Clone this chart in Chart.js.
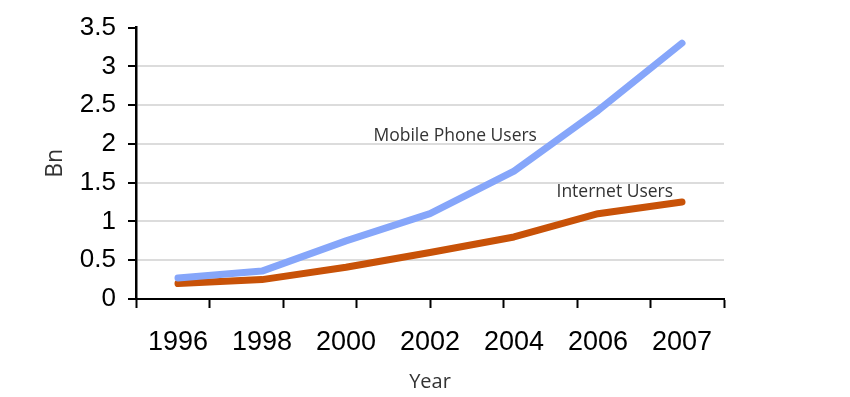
<!DOCTYPE html>
<html>
<head>
<meta charset="utf-8">
<script src="https://cdn.jsdelivr.net/npm/chart.js@4"></script>
<style>
  html, body { margin: 0; padding: 0; background: #fff; }
  #wrap { width: 850px; height: 397px; }
</style>
</head>
<body>
<div id="wrap"><canvas id="usersChart"></canvas></div>
<script>
// Chart data
const years = ['1996', '1998', '2000', '2002', '2004', '2006', '2007'];
const mobileUsers = [0.27, 0.36, 0.75, 1.1, 1.65, 2.43, 3.3];
const internetUsers = [0.2, 0.25, 0.41, 0.6, 0.8, 1.1, 1.25];
const yTicks = [0, 0.5, 1, 1.5, 2, 2.5, 3, 3.5];

// text labels drawn next to the lines (category index, value)
const lineNotes = [
    { text: 'Mobile Phone Users', x: 3.3, y: 2.04 },
    { text: 'Internet Users', x: 5.2, y: 1.31 }
];

const notesPlugin = {
    id: 'notes',
    afterDatasetsDraw(chart) {
        const ctx = chart.ctx;
        const xs = chart.scales.x;
        const ys = chart.scales.y;
        ctx.save();
        ctx.font = '17.5px "Open Sans"';
        ctx.fillStyle = '#333';
        ctx.textAlign = 'center';
        ctx.textBaseline = 'alphabetic';
        lineNotes.forEach(function(n) {
            const px = xs.left + (n.x + 0.5) * (xs.width / years.length);
            ctx.fillText(n.text, px, ys.getPixelForValue(n.y));
        });
        ctx.restore();
    }
};

document.addEventListener('DOMContentLoaded', function() {
    const ctx = document.getElementById('usersChart').getContext('2d');
    new Chart(ctx, {
        type: 'line',
        data: {
            labels: years,
            datasets: [{
                label: 'Mobile Phone Users',
                data: mobileUsers,
                xAxisID: 'x',
                yAxisID: 'y',
                borderColor: '#86a6fa',
                borderWidth: 7,
                borderCapStyle: 'round',
                borderJoinStyle: 'round',
                pointRadius: 0,
                tension: 0
            }, {
                label: 'Internet Users',
                data: internetUsers,
                xAxisID: 'x',
                yAxisID: 'y',
                borderColor: '#c85208',
                borderWidth: 7,
                borderCapStyle: 'round',
                borderJoinStyle: 'round',
                pointRadius: 0,
                tension: 0
            }]
        },
        options: {
            responsive: true,
            maintainAspectRatio: false,
            animation: false,
            layout: {
                padding: { left: 0, right: 126, top: 24, bottom: 0 }
            },
            plugins: {
                legend: { display: false },
                tooltip: { enabled: false }
            },
            scales: {
                xt: {
                    type: 'linear',
                    position: 'bottom',
                    weight: 0,
                    min: 0,
                    max: 8,
                    ticks: { display: false, stepSize: 1 },
                    grid: {
                        drawOnChartArea: false,
                        drawTicks: true,
                        tickLength: 9,
                        tickColor: '#000',
                        tickWidth: 2
                    },
                    border: { display: true, color: '#000', width: 2 },
                    afterFit: function(scale) { scale.height = 0; }
                },
                x: {
                    type: 'category',
                    position: 'bottom',
                    weight: 1,
                    offset: true,
                    grid: { display: false, drawTicks: false },
                    border: { display: false },
                    ticks: {
                        color: '#000',
                        font: { family: '"Liberation Sans", Arial, sans-serif', size: 27 },
                        padding: 27,
                        maxRotation: 0,
                        autoSkip: false
                    },
                    title: {
                        display: true,
                        text: 'Year',
                        color: '#333',
                        font: { family: '"Open Sans", sans-serif', size: 20 },
                        padding: { top: 0, bottom: 3 }
                    },
                    afterFit: function(scale) { scale.height = 98; }
                },
                y: {
                    min: 0,
                    max: 3.5,
                    afterBuildTicks: function(scale) {
                        scale.ticks = yTicks.map(function(v) { return { value: v }; });
                    },
                    ticks: {
                        color: '#000',
                        font: { family: '"Liberation Sans", Arial, sans-serif', size: 26 },
                        padding: 12,
                        callback: function(v) { return String(v); }
                    },
                    grid: {
                        color: function(c) {
                            if (c.tick && (c.tick.value === 0 || c.tick.value === 3.5)) return 'rgba(0,0,0,0)';
                            return '#dcdcdc';
                        },
                        lineWidth: 2,
                        tickLength: 8,
                        tickColor: '#000',
                        tickWidth: 2
                    },
                    border: { display: true, color: '#000', width: 2.5 },
                    title: {
                        display: true,
                        text: 'Bn',
                        color: '#333',
                        font: { family: '"Open Sans", sans-serif', size: 23 },
                        padding: { top: 42, bottom: 0 }
                    },
                    afterFit: function(scale) { scale.width = 136; }
                }
            }
        },
        plugins: [notesPlugin]
    });
});
</script>
</body>
</html>
